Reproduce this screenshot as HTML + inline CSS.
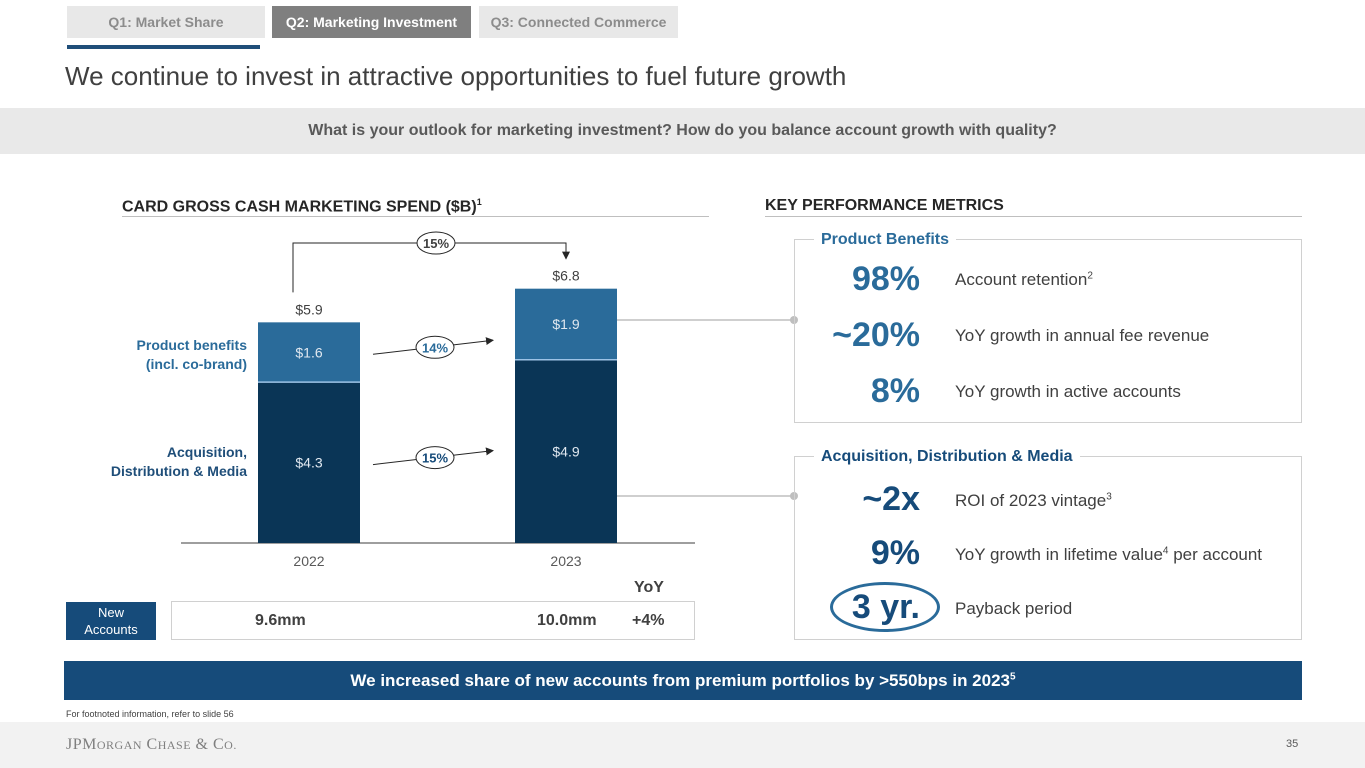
<!DOCTYPE html>
<html><head><meta charset="utf-8"><style>
*{margin:0;padding:0;box-sizing:border-box}
body{width:1365px;height:768px;overflow:hidden;background:#fff;font-family:"Liberation Sans",Arial,sans-serif;position:relative;color:#404040}
.a{position:absolute}
.tab{position:absolute;top:6px;height:32px;line-height:32px;text-align:center;font-size:14px;font-weight:bold;color:#fff}
.big{position:absolute;font-size:34px;font-weight:bold;text-align:right;width:130px;left:790px}
.desc{position:absolute;left:955px;font-size:17px;color:#404040}
</style></head><body>
<div class="tab" style="left:67px;width:198px;background:#e8e8e8;color:#8c8c8c">Q1: Market Share</div>
<div class="tab" style="left:272px;width:199px;background:#7f7f7f">Q2: Marketing Investment</div>
<div class="tab" style="left:479px;width:199px;background:#e8e8e8;color:#8c8c8c">Q3: Connected Commerce</div>
<div class="a" style="left:67px;top:45px;width:193px;height:4px;background:#1f4e79"></div>
<div class="a" style="left:65px;top:61px;font-size:26px;color:#404040">We continue to invest in attractive opportunities to fuel future growth</div>
<div class="a" style="left:0;top:108px;width:1365px;height:46px;background:#e9e9e9;text-align:center;line-height:46px;font-size:16px;font-weight:bold;color:#595959">What is your outlook for marketing investment? How do you balance account growth with quality?</div>
<div class="a" style="left:122px;top:197px;font-size:16px;font-weight:bold;color:#262626">CARD GROSS CASH MARKETING SPEND ($B)<sup style="font-size:9px">1</sup></div>
<div class="a" style="left:122px;top:216px;width:587px;height:1px;background:#bfbfbf"></div>
<div class="a" style="left:765px;top:197px;font-size:16px;font-weight:bold;color:#262626">KEY PERFORMANCE METRICS</div>
<div class="a" style="left:765px;top:216px;width:537px;height:1px;background:#bfbfbf"></div>

<svg class="a" style="left:0;top:0" width="1365" height="768" id="chart"></svg>

<div class="a" style="left:100px;top:336px;width:147px;text-align:right;font-size:14px;font-weight:bold;color:#2a6b9a;line-height:19px">Product benefits<br>(incl. co-brand)</div>
<div class="a" style="left:90px;top:443px;width:157px;text-align:right;font-size:14px;font-weight:bold;color:#1f4e79;line-height:19px">Acquisition,<br>Distribution &amp; Media</div>

<div class="a" style="left:634px;top:579px;font-size:16px;font-weight:bold;color:#404040">YoY</div>
<div class="a" style="left:66px;top:602px;width:90px;height:38px;background:#164b7a;color:#fff;font-size:13px;text-align:center;line-height:17px;padding-top:2px">New<br>Accounts</div>
<div class="a" style="left:171px;top:601px;width:524px;height:39px;border:1px solid #d0d0d0"></div>
<div class="a" style="left:255px;top:612px;font-size:16px;font-weight:bold">9.6mm</div>
<div class="a" style="left:537px;top:612px;font-size:16px;font-weight:bold">10.0mm</div>
<div class="a" style="left:632px;top:612px;font-size:16px;font-weight:bold">+4%</div>

<div class="a" style="left:794px;top:239px;width:508px;height:184px;border:1px solid #d0d0d0"></div>
<div class="a" style="left:814px;top:231px;padding:0 7px;background:#fff;font-size:16px;font-weight:bold;color:#2a6b9a">Product Benefits</div>
<div class="big" style="top:260px;color:#2a6b9a">98%</div>
<div class="desc" style="top:270px">Account retention<sup style="font-size:10px">2</sup></div>
<div class="big" style="top:316px;color:#2a6b9a">~20%</div>
<div class="desc" style="top:326px">YoY growth in annual fee revenue</div>
<div class="big" style="top:372px;color:#2a6b9a">8%</div>
<div class="desc" style="top:382px">YoY growth in active accounts</div>

<div class="a" style="left:794px;top:456px;width:508px;height:184px;border:1px solid #d0d0d0"></div>
<div class="a" style="left:814px;top:448px;padding:0 7px;background:#fff;font-size:16px;font-weight:bold;color:#164b7a">Acquisition, Distribution &amp; Media</div>
<div class="big" style="top:480px;color:#164b7a">~2x</div>
<div class="desc" style="top:491px">ROI of 2023 vintage<sup style="font-size:10px">3</sup></div>
<div class="big" style="top:534px;color:#164b7a">9%</div>
<div class="desc" style="top:545px">YoY growth in lifetime value<sup style="font-size:10px">4</sup> per account</div>
<div class="a" style="left:830px;top:582px;width:110px;height:50px;border:3px solid #2a6b9a;border-radius:50%"></div>
<div class="big" style="top:588px;color:#164b7a">3 yr.</div>
<div class="desc" style="top:599px">Payback period</div>

<div class="a" style="left:64px;top:661px;width:1238px;height:39px;background:#164b7a;color:#fff;text-align:center;line-height:39px;font-size:17px;font-weight:bold">We increased share of new accounts from premium portfolios by &gt;550bps in 2023<sup style="font-size:10px;line-height:0">5</sup></div>
<div class="a" style="left:66px;top:709px;font-size:9px;color:#404040">For footnoted information, refer to slide 56</div>
<div class="a" style="left:0;top:722px;width:1365px;height:46px;background:#f2f2f2"></div>
<div class="a" style="left:66px;top:736px;font-family:'Liberation Serif',serif;font-size:16px;color:#7f7f7f;letter-spacing:0.5px">JPM<span style="font-size:12px">ORGAN</span> C<span style="font-size:12px">HASE</span> &amp; C<span style="font-size:12px">O.</span></div>
<div class="a" style="left:1286px;top:738px;font-size:11px;color:#595959">35</div>

<script>
const categories=["2022","2023"];
const acquisition=[4.3,4.9];
const productBenefits=[1.6,1.9];
const totals=[5.9,6.8];
const acqLabels=["$4.3","$4.9"];
const pbLabels=["$1.6","$1.9"];
const totalLabels=["$5.9","$6.8"];
const growthLabels=["15%","14%","15%"];

const svg=document.getElementById('chart');
const NS='http://www.w3.org/2000/svg';
const baseY=543, scale=37.4;
const y=v=>baseY-v*scale;
const xLeft=i=>258+i*257;
const bw=102;
function mk(tag,at,txt){const e=document.createElementNS(NS,tag);for(const k in at)e.setAttribute(k,at[k]);if(txt!==undefined)e.textContent=txt;svg.appendChild(e);return e;}
const defs=mk('defs',{});
defs.innerHTML='<marker id="ar" markerWidth="8" markerHeight="8" refX="7" refY="4" orient="auto"><path d="M0,0 L8,4 L0,8 z" fill="#262626"/></marker>';
let ax=mk('line',{x1:181,x2:695,y1:baseY,y2:baseY,stroke:'#7f7f7f','stroke-width':1.5});


categories.forEach((c,i)=>{
  const x=xLeft(i), cx=x+bw/2;
  let r1=mk('rect',{x:x,y:y(acquisition[i]),width:bw,height:acquisition[i]*scale,fill:'#0a3556'});
  
  
  let r2=mk('rect',{x:x,y:y(acquisition[i]+productBenefits[i]),width:bw,height:productBenefits[i]*scale,fill:'#2a6b9a'});
  
  
  mk('line',{x1:x,x2:x+bw,y1:y(acquisition[i]),y2:y(acquisition[i]),stroke:'#9dc3e6','stroke-width':1.5});
  mk('text',{x:cx,y:y(acquisition[i]/2)+5,'text-anchor':'middle','font-size':14,fill:'#e0e8f0'},acqLabels[i]);
  mk('text',{x:cx,y:y(acquisition[i]+productBenefits[i]/2)+5,'text-anchor':'middle','font-size':14,fill:'#e0e8f0'},pbLabels[i]);
  mk('text',{x:cx,y:y(totals[i])-8,'text-anchor':'middle','font-size':14,fill:'#404040'},totalLabels[i]);
  let t=mk('text',{x:cx,y:566,'text-anchor':'middle','font-size':14,fill:'#595959'},c);
  
  
});
const c0=xLeft(0)+bw/2, c1=xLeft(1)+bw/2;
mk('path',{d:`M${c0-16},${y(totals[0])-30} V243 H${c1} V${y(totals[1])-30}`,fill:'none',stroke:'#262626','stroke-width':1,'marker-end':'url(#ar)'});
function bubble(cx,cy,t,col){mk('ellipse',{cx:cx,cy:cy,rx:19,ry:11,fill:'#fff',stroke:'#262626','stroke-width':1});mk('text',{x:cx,y:cy+5,'text-anchor':'middle','font-size':13,'font-weight':'bold',fill:col},t);}
bubble(436,243,growthLabels[0],'#404040');
[[acquisition[0]+productBenefits[0]/2,growthLabels[1],'#2a6b9a'],[acquisition[0]/2,growthLabels[2],'#164b7a']].forEach(a=>{
  mk('line',{x1:373,y1:y(a[0])+2,x2:493,y2:y(a[0])-12,stroke:'#262626','stroke-width':1,'marker-end':'url(#ar)'});
  bubble(435,y(a[0])-5,a[1],a[2]);
});
mk('line',{x1:617,x2:794,y1:320,y2:320,stroke:'#bfbfbf','stroke-width':1.5});
mk('circle',{cx:794,cy:320,r:4,fill:'#bfbfbf'});
mk('line',{x1:617,x2:794,y1:496,y2:496,stroke:'#bfbfbf','stroke-width':1.5});
mk('circle',{cx:794,cy:496,r:4,fill:'#bfbfbf'});
</script>
</body></html>
